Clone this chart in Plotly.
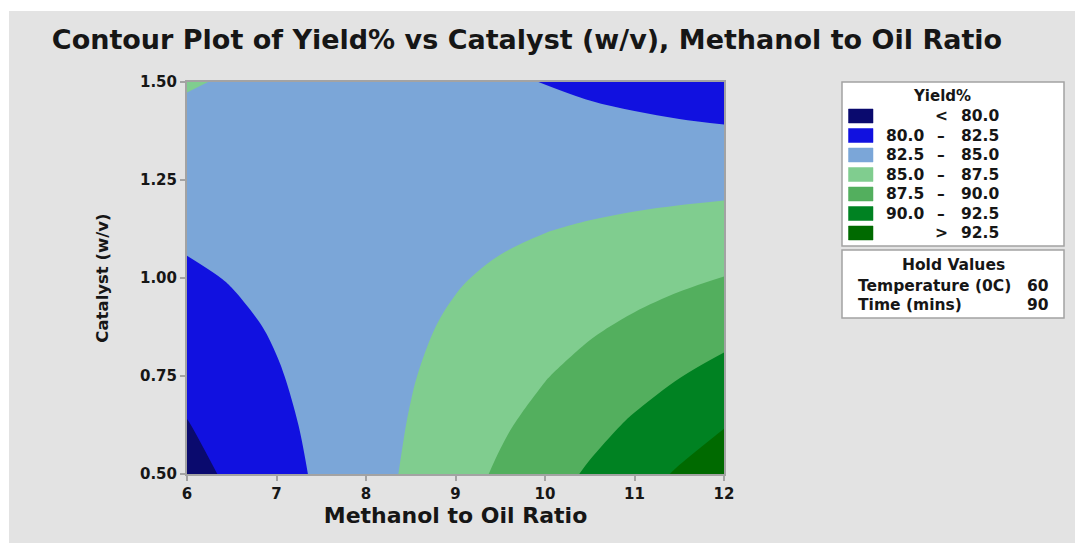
import plotly.graph_objects as go

# Grid of the fitted yield surface (Temperature 60 °C, Time 90 min held fixed)
methanol = [6.0, 6.5, 7.0, 7.5, 8.0, 8.5, 9.0, 9.5, 10.0, 10.5, 11.0, 11.5, 12.0]
catalyst = [0.5, 0.625, 0.75, 0.875, 1.0, 1.125, 1.25, 1.375, 1.5]

yield_pct = [
    [79.16, 80.40, 81.63, 82.87, 84.11, 85.34, 86.58, 87.82, 89.05, 90.29, 91.53, 92.76, 94.00],
    [79.91, 80.95, 81.99, 83.03, 84.07, 85.11, 86.15, 87.19, 88.23, 89.27, 90.31, 91.34, 92.38],
    [80.66, 81.50, 82.35, 83.19, 84.03, 84.88, 85.72, 86.56, 87.40, 88.25, 89.09, 89.93, 90.78],
    [81.41, 82.06, 82.70, 83.35, 83.99, 84.64, 85.29, 85.93, 86.58, 87.22, 87.87, 88.52, 89.16],
    [82.16, 82.61, 83.06, 83.51, 83.96, 84.41, 84.85, 85.30, 85.75, 86.20, 86.65, 87.10, 87.55],
    [82.91, 83.16, 83.41, 83.67, 83.92, 84.17, 84.42, 84.67, 84.93, 85.18, 85.43, 85.68, 85.93],
    [83.66, 83.72, 83.77, 83.83, 83.88, 83.94, 83.99, 84.05, 84.10, 84.16, 84.22, 84.27, 84.33],
    [84.41, 84.27, 84.13, 83.99, 83.84, 83.70, 83.56, 83.42, 83.28, 83.14, 83.00, 82.85, 82.71],
    [85.16, 84.82, 84.48, 84.14, 83.81, 83.47, 83.13, 82.79, 82.45, 82.11, 81.77, 81.43, 81.10],
]

# Contour bands
levels_start, levels_end, level_step = 80.0, 92.5, 2.5
band_labels = [("", "<", "80.0"), ("80.0", "–", "82.5"), ("82.5", "–", "85.0"),
               ("85.0", "–", "87.5"), ("87.5", "–", "90.0"), ("90.0", "–", "92.5"),
               ("", ">", "92.5")]
band_colors = ["#0a0a6e", "#1111e0", "#7ba6d8", "#80cd8f", "#53af5e", "#008222", "#006a00"]

hold_names = ["Temperature (0C)", "Time (mins)"]
hold_values = ["60", "90"]

W, H = 1075, 543
ML, MR, MT, MB = 187, 351, 82, 69
PW, PH = W - ML - MR, H - MT - MB

def px(x):
    return (x - ML) / PW

def py(y):
    return (H - MB - y) / PH

TXT = "#161616"
FONT = "DejaVu Sans"
AX = "#a3a3a3"

fig = go.Figure()
fig.add_trace(go.Contour(
    x=methanol, y=catalyst, z=yield_pct,
    contours=dict(start=levels_start, end=levels_end, size=level_step,
                  coloring="fill", showlines=False),
    colorscale=[[i / (len(band_colors) - 1), c] for i, c in enumerate(band_colors)],
    line=dict(width=0, smoothing=1),
    showscale=False,
    hoverinfo="skip",
))

shapes = [
    # page background
    dict(type="rect", xref="paper", yref="paper", layer="below",
         x0=px(9), x1=px(W + 5), y0=py(11), y1=py(H + 5),
         fillcolor="#e3e3e3", line=dict(width=0)),
    # legend boxes
    dict(type="rect", xref="paper", yref="paper",
         x0=px(842), x1=px(1064), y0=py(82), y1=py(246),
         fillcolor="white", line=dict(color=AX, width=1.5)),
    dict(type="rect", xref="paper", yref="paper",
         x0=px(842), x1=px(1064), y0=py(250), y1=py(318),
         fillcolor="white", line=dict(color=AX, width=1.5)),
]

annotations = [
    dict(text="Yield%", x=px(942), y=py(96), xref="paper", yref="paper",
         showarrow=False, xanchor="center", yanchor="middle",
         font=dict(family=FONT, size=15, color=TXT, weight=700)),
    dict(text="Hold Values", x=px(953), y=py(265), xref="paper", yref="paper",
         showarrow=False, xanchor="center", yanchor="middle",
         font=dict(family=FONT, size=15.5, color=TXT, weight=700)),
]

row_y = [116, 135.5, 155, 174.5, 194, 213.5, 233]
for (lo, sep, hi), col, yy in zip(band_labels, band_colors, row_y):
    shapes.append(dict(type="rect", xref="paper", yref="paper",
                       x0=px(848.5), x1=px(873), y0=py(yy - 7), y1=py(yy + 7),
                       fillcolor=col, line=dict(color=col, width=0.5)))
    f = dict(family=FONT, size=15.5, color=TXT, weight=700)
    if lo:
        annotations.append(dict(text=lo, x=px(926), y=py(yy), xref="paper", yref="paper",
                                showarrow=False, xanchor="right", yanchor="middle", font=f))
    annotations.append(dict(text=sep, x=px(941), y=py(yy), xref="paper", yref="paper",
                            showarrow=False, xanchor="center", yanchor="middle", font=f))
    annotations.append(dict(text=hi, x=px(1001), y=py(yy), xref="paper", yref="paper",
                            showarrow=False, xanchor="right", yanchor="middle", font=f))

for name, val, yy in zip(hold_names, hold_values, [286, 305]):
    f = dict(family=FONT, size=15.5, color=TXT, weight=700)
    annotations.append(dict(text=name, x=px(856), y=py(yy), xref="paper", yref="paper",
                            showarrow=False, xanchor="left", yanchor="middle", font=f))
    annotations.append(dict(text=val, x=px(1051), y=py(yy), xref="paper", yref="paper",
                            showarrow=False, xanchor="right", yanchor="middle", font=f))

axis_common = dict(showline=True, mirror=True, linecolor=AX, linewidth=2,
                   ticks="outside", ticklen=5, tickwidth=1.5, tickcolor=AX,
                   showgrid=False, zeroline=False,
                   tickfont=dict(family=FONT, size=15, color=TXT, weight=700))

fig.update_layout(
    width=W, height=H,
    margin=dict(l=ML, r=MR, t=MT, b=MB, autoexpand=False),
    paper_bgcolor="white", plot_bgcolor="#e3e3e3",
    title=dict(text="Contour Plot of Yield% vs Catalyst (w/v), Methanol to Oil Ratio",
               x=527 / W, xanchor="center", y=1 - 40 / H, yanchor="middle",
               xref="container", yref="container",
               font=dict(family=FONT, size=27, color=TXT, weight=700)),
    xaxis=dict(range=[6, 12], tickvals=[6, 7, 8, 9, 10, 11, 12],
               title=dict(text="Methanol to Oil Ratio", standoff=5,
                          font=dict(family=FONT, size=22, color=TXT, weight=700)),
               **axis_common),
    yaxis=dict(range=[0.5, 1.5], tickvals=[0.5, 0.75, 1.0, 1.25, 1.5],
               ticktext=["0.50", "0.75", "1.00", "1.25", "1.50"],
               title=dict(text="Catalyst (w/v)", standoff=27,
                          font=dict(family=FONT, size=16.5, color=TXT, weight=700)),
               **axis_common),
    shapes=shapes,
    annotations=annotations,
    showlegend=False,
)

fig.write_html("out.html")
